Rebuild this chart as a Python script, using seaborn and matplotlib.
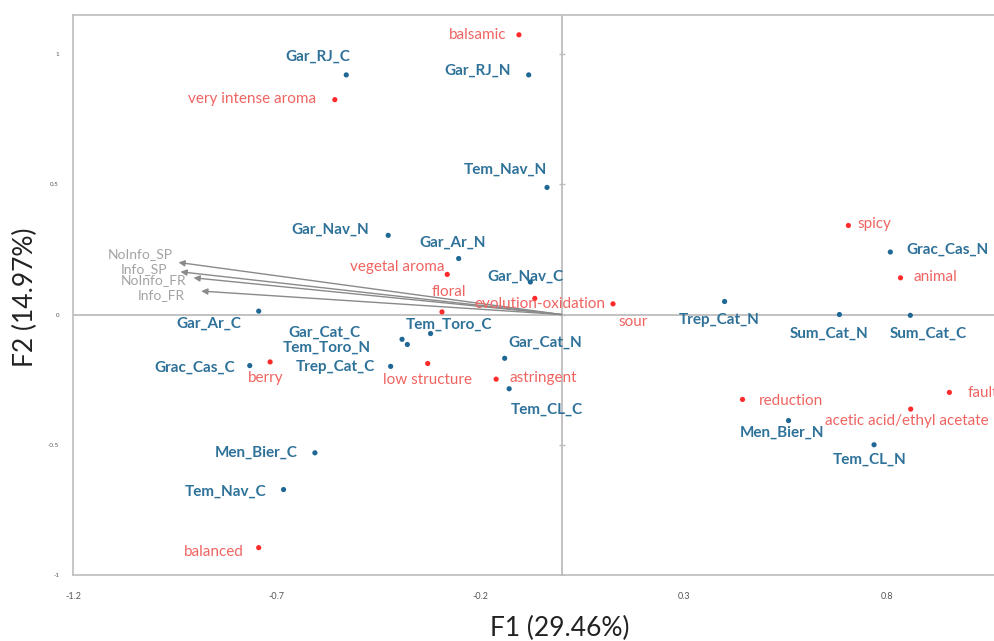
import pandas as pd
import seaborn as sns
from matplotlib import pyplot as plt

# observations (blue)
obs_names = ["Gar_RJ_C", "Gar_RJ_N", "Tem_Nav_N", "Gar_Nav_N", "Gar_Ar_N", "Gar_Nav_C",
             "Gar_Ar_C", "Gar_Cat_C", "Tem_Toro_N", "Tem_Toro_C", "Grac_Cas_C", "Trep_Cat_C",
             "Gar_Cat_N", "Tem_CL_C", "Men_Bier_C", "Tem_Nav_C", "Trep_Cat_N", "Sum_Cat_N",
             "Sum_Cat_C", "Grac_Cas_N", "Men_Bier_N", "Tem_CL_N"]
obs_f1 = [-0.529, -0.081, -0.036, -0.426, -0.253, -0.077,
          -0.744, -0.392, -0.379, -0.322, -0.766, -0.420,
          -0.140, -0.129, -0.606, -0.683, 0.400, 0.682,
          0.856, 0.807, 0.557, 0.767]
obs_f2 = [0.920, 0.920, 0.488, 0.304, 0.215, 0.125,
          0.013, -0.095, -0.115, -0.073, -0.196, -0.199,
          -0.168, -0.285, -0.531, -0.672, 0.050, 0.000,
          -0.003, 0.240, -0.407, -0.500]

# attributes (red)
var_names = ["balsamic", "very intense aroma", "vegetal aroma", "floral", "evolution-oxidation",
             "sour", "berry", "low structure", "astringent", "spicy", "animal", "reduction",
             "faulty", "acetic acid/ethyl acetate", "balanced"]
var_f1 = [-0.105, -0.557, -0.281, -0.294, -0.066,
          0.126, -0.716, -0.329, -0.161, 0.704, 0.832, 0.444,
          0.952, 0.857, -0.744]
var_f2 = [1.074, 0.825, 0.154, 0.010, 0.062,
          0.041, -0.182, -0.188, -0.248, 0.342, 0.141, -0.326,
          -0.299, -0.363, -0.895]

# supplementary variables (arrows)
sup_names = ["NoInfo_SP", "Info_SP", "NoInfo_FR", "Info_FR"]
sup_f1 = [-0.941, -0.936, -0.904, -0.885]
sup_f2 = [0.200, 0.164, 0.141, 0.090]

x_ticks = [-1.2, -0.7, -0.2, 0.3, 0.8]
y_ticks = [-1, -0.5, 0, 0.5, 1]

# label offsets in image pixels (dx right, dy down)
obs_off = {"Gar_RJ_C": (-28, -18), "Gar_RJ_N": (-51, -4), "Tem_Nav_N": (-42, -18),
           "Gar_Nav_N": (-58, -6), "Gar_Ar_N": (-6, -16), "Gar_Nav_C": (-5, -5),
           "Gar_Ar_C": (-50, 13), "Gar_Cat_C": (-78, -7), "Tem_Toro_N": (-81, 3),
           "Tem_Toro_C": (18, -9), "Grac_Cas_C": (-55, 2), "Trep_Cat_C": (-55, 1),
           "Gar_Cat_N": (41, -16), "Tem_CL_C": (38, 21), "Men_Bier_C": (-59, 0),
           "Tem_Nav_C": (-58, 2), "Trep_Cat_N": (-5, 18), "Sum_Cat_N": (-10, 19),
           "Sum_Cat_C": (18, 18), "Grac_Cas_N": (57, -2), "Men_Bier_N": (-7, 12),
           "Tem_CL_N": (-4, 15)}
var_off = {"balsamic": (-41, 0), "very intense aroma": (-83, -1), "vegetal aroma": (-50, -7),
           "floral": (7, -20), "evolution-oxidation": (5, 6), "sour": (20, 18),
           "berry": (-4, 16), "low structure": (0, 16), "astringent": (47, -1),
           "spicy": (26, -1), "animal": (35, -1), "reduction": (48, 2),
           "acetic acid/ethyl acetate": (-4, 12), "balanced": (-45, 4)}
sup_off = {"NoInfo_SP": (-38, -8), "Info_SP": (-37, -3), "NoInfo_FR": (-40, 2), "Info_FR": (-40, 4)}

blue_pt = "#1f6896"
blue_txt = "#2e7199"
red_pt = "#ff2b2b"
red_txt = "#ef6461"
grey_line = "#bdbdbd"

sns.set_style("white")
plt.rcParams['font.family'] = ['Lato', 'DejaVu Sans']

obs = pd.DataFrame({"name": obs_names, "F1": obs_f1, "F2": obs_f2})
var = pd.DataFrame({"name": var_names, "F1": var_f1, "F2": var_f2})

fig = plt.figure(figsize=(9.95, 6.41), dpi=100)
ax = fig.add_axes([73 / 995, 66 / 641, 922 / 995, 560 / 641])

ax.axhline(0, color=grey_line, lw=1.3, zorder=1)
ax.axvline(0, color=grey_line, lw=1.3, zorder=1)
ax.scatter([0] * len(y_ticks), y_ticks, marker="_", s=20, color=grey_line, lw=1, zorder=1)

for n, x, y in zip(sup_names, sup_f1, sup_f2):
    ax.annotate("", xy=(x, y), xytext=(0, 0),
                arrowprops=dict(arrowstyle="-|>", color="#8a8a8a", lw=1.0, mutation_scale=9,
                                shrinkA=0, shrinkB=0), zorder=2)
    dx, dy = sup_off[n]
    ax.annotate(n, (x, y), xytext=(dx, -dy), textcoords="offset pixels",
                ha="center", va="center", fontsize=10, color="#a3a3a3")

sns.scatterplot(data=obs, x="F1", y="F2", color=blue_pt, s=14, edgecolor="none", ax=ax, zorder=3)
sns.scatterplot(data=var, x="F1", y="F2", color=red_pt, s=14, edgecolor="none", ax=ax, zorder=3)

for n, x, y in zip(obs_names, obs_f1, obs_f2):
    dx, dy = obs_off[n]
    ax.annotate(n, (x, y), xytext=(dx, -dy), textcoords="offset pixels",
                ha="center", va="center", fontsize=11, fontweight="bold", color=blue_txt)

for n, x, y in zip(var_names, var_f1, var_f2):
    if n == "faulty":
        ax.annotate(n, (x, y), xytext=(18, -1), textcoords="offset pixels",
                    ha="left", va="center", fontsize=11, color=red_txt, annotation_clip=False)
        continue
    dx, dy = var_off[n]
    ax.annotate(n, (x, y), xytext=(dx, -dy), textcoords="offset pixels",
                ha="center", va="center", fontsize=11, color=red_txt)

ax.set_xlim(-1.2, 1.064)
ax.set_ylim(-1, 1.15)
ax.set_xticks(x_ticks)
ax.set_yticks(y_ticks)
ax.set_xticklabels([str(t) for t in x_ticks], fontsize=6.5, color="#555555")
ax.set_yticklabels([str(t) for t in y_ticks], fontsize=4.5, color="#555555")
ax.tick_params(axis="x", length=0, pad=12)
ax.tick_params(axis="y", length=0, pad=10)
ax.set_xlabel("")
ax.set_ylabel("")
for side in ["left", "top", "bottom"]:
    ax.spines[side].set_color(grey_line)
    ax.spines[side].set_linewidth(1.2)
ax.spines["right"].set_visible(False)

fig.text(560 / 995, 1 - 628 / 641, "F1 (29.46%)", ha="center", va="center", fontsize=19, color="#222222")
fig.text(25 / 995, 1 - 297 / 641, "F2 (14.97%)", ha="center", va="center", fontsize=19,
         rotation=90, color="#222222")

fig.savefig("out.png", dpi=100)
